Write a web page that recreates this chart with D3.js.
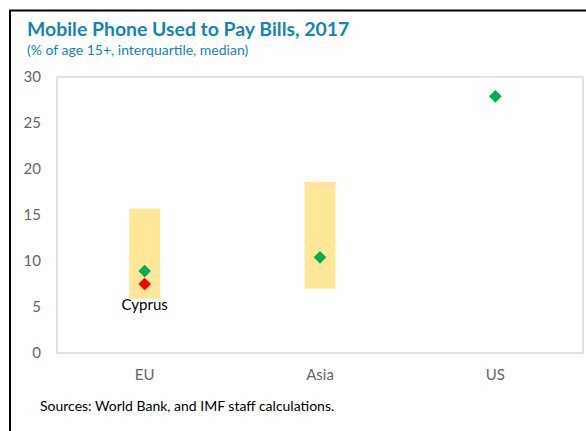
<!DOCTYPE html>
<html>
<head>
<meta charset="utf-8">
<script src="https://d3js.org/d3.v7.min.js"></script>
<style>
  body { margin: 0; background: #fff; }
  text { font-family: Lato, "Open Sans", sans-serif; }
</style>
</head>
<body>
<svg id="chart" width="586" height="431"></svg>
<script>
// data
var regions = ["EU", "Asia", "US"]
var q1 = [5.9, 7.0, null]
var q3 = [15.7, 18.6, null]
var medians = [8.9, 10.4, 27.9]
var cyprus = [{ region: "EU", value: 7.5, label: "Cyprus" }]
var yTicks = [0, 5, 10, 15, 20, 25, 30]

var svg = d3.select("#chart")

// outer frame (only left and top visible)
svg.append("rect")
    .attr("x", 10).attr("y", 10.5)
    .attr("width", 600).attr("height", 440)
    .attr("fill", "none")
    .attr("stroke", "#000")
    .attr("stroke-width", 2)

svg.append("text")
    .attr("x", 27).attr("y", 36)
    .attr("fill", "#1484b2")
    .attr("font-size", 19.4)
    .attr("font-weight", "bold")
    .text("Mobile Phone Used to Pay Bills, 2017")

svg.append("text")
    .attr("x", 27).attr("y", 55)
    .attr("fill", "#1484b2")
    .attr("font-size", 14)
    .text("(% of age 15+, interquartile, median)")

var plotL = 57, plotR = 583, plotT = 77, plotB = 353

var x = d3.scaleBand().domain(regions).range([plotL, plotR])
var y = d3.scaleLinear().domain([0, 30]).range([plotB, plotT])

// plot area border
svg.append("rect")
    .attr("x", plotL).attr("y", plotT)
    .attr("width", plotR - plotL).attr("height", plotB - plotT)
    .attr("fill", "none")
    .attr("stroke", "#d9d9d9")
    .attr("stroke-width", 1.5)

var yAxis = svg.append("g")
    .attr("transform", "translate(" + (plotL - 16) + ",0)")
    .call(d3.axisLeft(y).tickValues(yTicks).tickSize(0).tickPadding(0))
yAxis.select(".domain").remove()
yAxis.selectAll("text")
    .attr("fill", "#666")
    .attr("font-size", 15)
    .attr("font-family", "Lato, sans-serif")

var xAxis = svg.append("g")
    .attr("transform", "translate(0," + plotB + ")")
    .call(d3.axisBottom(x).tickSize(0).tickPadding(16))
xAxis.select(".domain").remove()
xAxis.selectAll("text")
    .attr("fill", "#666")
    .attr("font-size", 15)
    .attr("font-family", "Lato, sans-serif")

// interquartile boxes
var boxW = 31
svg.selectAll(".iqr")
    .data(regions.filter(function(r, i) { return q1[i] != null }))
    .enter().append("rect")
    .attr("class", "iqr")
    .attr("x", function(d) { return x(d) + x.bandwidth() / 2 - boxW / 2 })
    .attr("y", function(d) { return y(q3[regions.indexOf(d)]) })
    .attr("width", boxW)
    .attr("height", function(d) {
        var i = regions.indexOf(d)
        return y(q1[i]) - y(q3[i])
    })
    .attr("fill", "#ffe699")

var diamond = d3.symbol().type(d3.symbolSquare).size(80)

svg.selectAll(".median")
    .data(regions)
    .enter().append("path")
    .attr("class", "median")
    .attr("d", diamond)
    .attr("transform", function(d, i) {
        return "translate(" + (x(d) + x.bandwidth() / 2) + "," + y(medians[i]) + ") rotate(45)"
    })
    .attr("fill", "#00b050")

svg.selectAll(".cy")
    .data(cyprus)
    .enter().append("path")
    .attr("class", "cy")
    .attr("d", diamond)
    .attr("transform", function(d) {
        return "translate(" + (x(d.region) + x.bandwidth() / 2) + "," + y(d.value) + ") rotate(45)"
    })
    .attr("fill", "#ff0000")

svg.selectAll(".cylabel")
    .data(cyprus)
    .enter().append("text")
    .attr("class", "cylabel")
    .attr("x", function(d) { return x(d.region) + x.bandwidth() / 2 })
    .attr("y", function(d) { return y(d.value) + 26 })
    .attr("text-anchor", "middle")
    .attr("font-size", 15)
    .attr("fill", "#000")
    .text(function(d) { return d.label })

svg.append("text")
    .attr("x", 40).attr("y", 411)
    .attr("font-size", 14)
    .attr("fill", "#000")
    .text("Sources: World Bank, and IMF staff calculations.")
</script>
</body>
</html>
